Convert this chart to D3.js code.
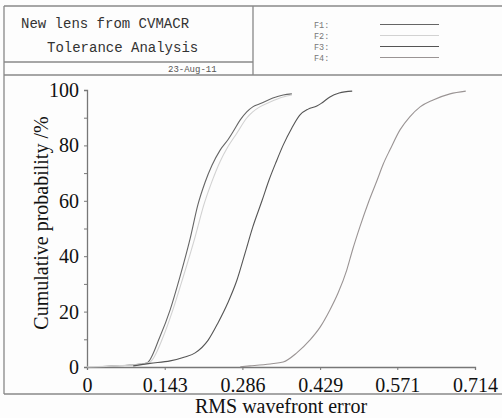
<!DOCTYPE html>
<html><head><meta charset="utf-8">
<script src="https://cdn.jsdelivr.net/npm/d3@7"></script>
<style>
body{margin:0;background:#fff}svg{display:block}
.serif{font-family:"Liberation Serif","Times New Roman",Times,"DejaVu Serif",serif}
.mono{font-family:"Liberation Mono","Courier New",Courier,"DejaVu Sans Mono",monospace}
</style>
</head><body>
<script>
const xTicks = [0, 0.143, 0.286, 0.429, 0.571, 0.714];
const xTickLabels = ["0", "0.143", "0.286", "0.429", "0.571", "0.714"];
const yTicks = [0, 20, 40, 60, 80, 100];
const seriesNames = ["F1", "F2", "F3", "F4"];
const seriesColors = ["#666666", "#d2d2d2", "#555555", "#9a9494"];

const f1 = [[0.029,0.2],[0.079,0.7],[0.110,1.4],[0.134,10.8],[0.153,20.6],[0.171,32.5],[0.190,46.5],[0.204,58.5],[0.217,66.5],[0.230,72.8],[0.245,78.3],[0.260,82.2],[0.269,85.0],[0.282,89.2],[0.294,92.1],[0.305,93.9],[0.318,95.0],[0.342,97.1],[0.361,98.2],[0.377,98.6]];
const f2 = [[0.0,0.0],[0.061,0.5],[0.098,1.0],[0.116,1.8],[0.140,10.8],[0.158,20.6],[0.177,32.5],[0.199,47.0],[0.215,58.5],[0.230,67.0],[0.245,74.2],[0.259,79.4],[0.276,84.5],[0.294,89.9],[0.305,92.1],[0.318,93.9],[0.337,95.7],[0.361,97.5],[0.377,98.2]];
const f3 = [[0.085,0.4],[0.116,1.3],[0.153,2.2],[0.180,3.6],[0.199,5.1],[0.223,9.7],[0.241,15.9],[0.259,23.1],[0.276,31.4],[0.291,41.2],[0.305,50.5],[0.322,60.0],[0.335,67.5],[0.348,74.0],[0.361,80.1],[0.377,86.3],[0.392,91.0],[0.407,93.1],[0.423,94.2],[0.432,95.3],[0.447,97.5],[0.464,98.9],[0.488,99.6]];
const f4 = [[0.282,0.1],[0.300,0.4],[0.337,1.1],[0.361,1.8],[0.386,5.1],[0.410,9.7],[0.429,14.4],[0.447,20.6],[0.462,26.7],[0.478,35.0],[0.489,42.5],[0.502,50.5],[0.518,59.5],[0.534,67.5],[0.545,73.2],[0.558,78.6],[0.576,85.6],[0.594,90.3],[0.613,93.9],[0.637,96.4],[0.668,98.6],[0.697,99.6]];
const seriesData = [f1, f2, f3, f4];

const W = 502, H = 418;
const svg = d3.select("body").append("svg").attr("width", W).attr("height", H);
svg.append("rect").attr("width", W).attr("height", H).attr("fill", "#fdfdfd");

const frame = "#888";
const g0 = svg.append("g").attr("stroke", frame).attr("stroke-width", 1.3).attr("fill", "none");
g0.append("line").attr("x1", 4).attr("y1", 6).attr("x2", 502).attr("y2", 6);
g0.append("line").attr("x1", 4).attr("y1", 6).attr("x2", 4).attr("y2", 394);
g0.append("line").attr("x1", 4).attr("y1", 75).attr("x2", 502).attr("y2", 75);
g0.append("line").attr("x1", 4).attr("y1", 62).attr("x2", 253).attr("y2", 62);
g0.append("line").attr("x1", 253).attr("y1", 6).attr("x2", 253).attr("y2", 75);
g0.append("line").attr("x1", 4).attr("y1", 394).attr("x2", 502).attr("y2", 394);

svg.append("text").attr("class", "mono").attr("x", 21).attr("y", 28).attr("font-size", 14).attr("fill", "#333").text("New lens from CVMACR");
svg.append("text").attr("class", "mono").attr("x", 47).attr("y", 52).attr("font-size", 14).attr("fill", "#333").text("Tolerance Analysis");
svg.append("text").attr("class", "mono").attr("x", 168).attr("y", 72).attr("font-size", 9).attr("fill", "#555").text("23-Aug-11");

// legend
const legY = [24.5, 35.5, 46.5, 57.5];
seriesNames.forEach((n, i) => {
  svg.append("text").attr("class", "mono").attr("x", 314).attr("y", legY[i] + 3).attr("font-size", 8.5).attr("fill", "#777").text(n + ":");
  svg.append("line").attr("x1", 380).attr("x2", 439).attr("y1", legY[i]).attr("y2", legY[i]).attr("stroke", seriesColors[i]).attr("stroke-width", 1.1);
});

const x = d3.scaleLinear().domain([0, 0.714]).range([87, 475]);
const y = d3.scaleLinear().domain([0, 100]).range([367, 90]);

const axisColor = "#777";
const xAxis = svg.append("g").attr("transform", "translate(0,367)")
  .call(d3.axisBottom(x).tickValues(xTicks).tickFormat((d, i) => xTickLabels[i]).tickSize(3).tickPadding(8));
const yAxis = svg.append("g").attr("transform", "translate(87,0)")
  .call(d3.axisLeft(y).tickValues(d3.range(0, 101, 10)).tickFormat(d => yTicks.includes(d) ? d : "").tickSize(3).tickPadding(5));
[xAxis, yAxis].forEach(a => {
  a.attr("font-family", null);
  a.select(".domain").attr("stroke", axisColor).attr("stroke-width", 1.3);
  a.selectAll(".tick line").attr("stroke", axisColor);
  a.selectAll("text").attr("class", "serif").attr("font-size", 20).attr("fill", "#111");
});

const line = d3.line().x(d => x(d[0])).y(d => y(d[1])).curve(d3.curveMonotoneX);
seriesData.forEach((s, i) => {
  svg.append("path").datum(s).attr("d", line).attr("fill", "none").attr("stroke", seriesColors[i]).attr("stroke-width", 1.1);
});

svg.append("text").attr("class", "serif").attr("x", 281).attr("y", 413).attr("text-anchor", "middle").attr("font-size", 20).attr("fill", "#111").text("RMS wavefront error");
svg.append("text").attr("class", "serif").attr("transform", "translate(48,223) rotate(-90)").attr("text-anchor", "middle").attr("font-size", 20).attr("fill", "#111").text("Cumulative probability /%");
</script>
</body></html>
